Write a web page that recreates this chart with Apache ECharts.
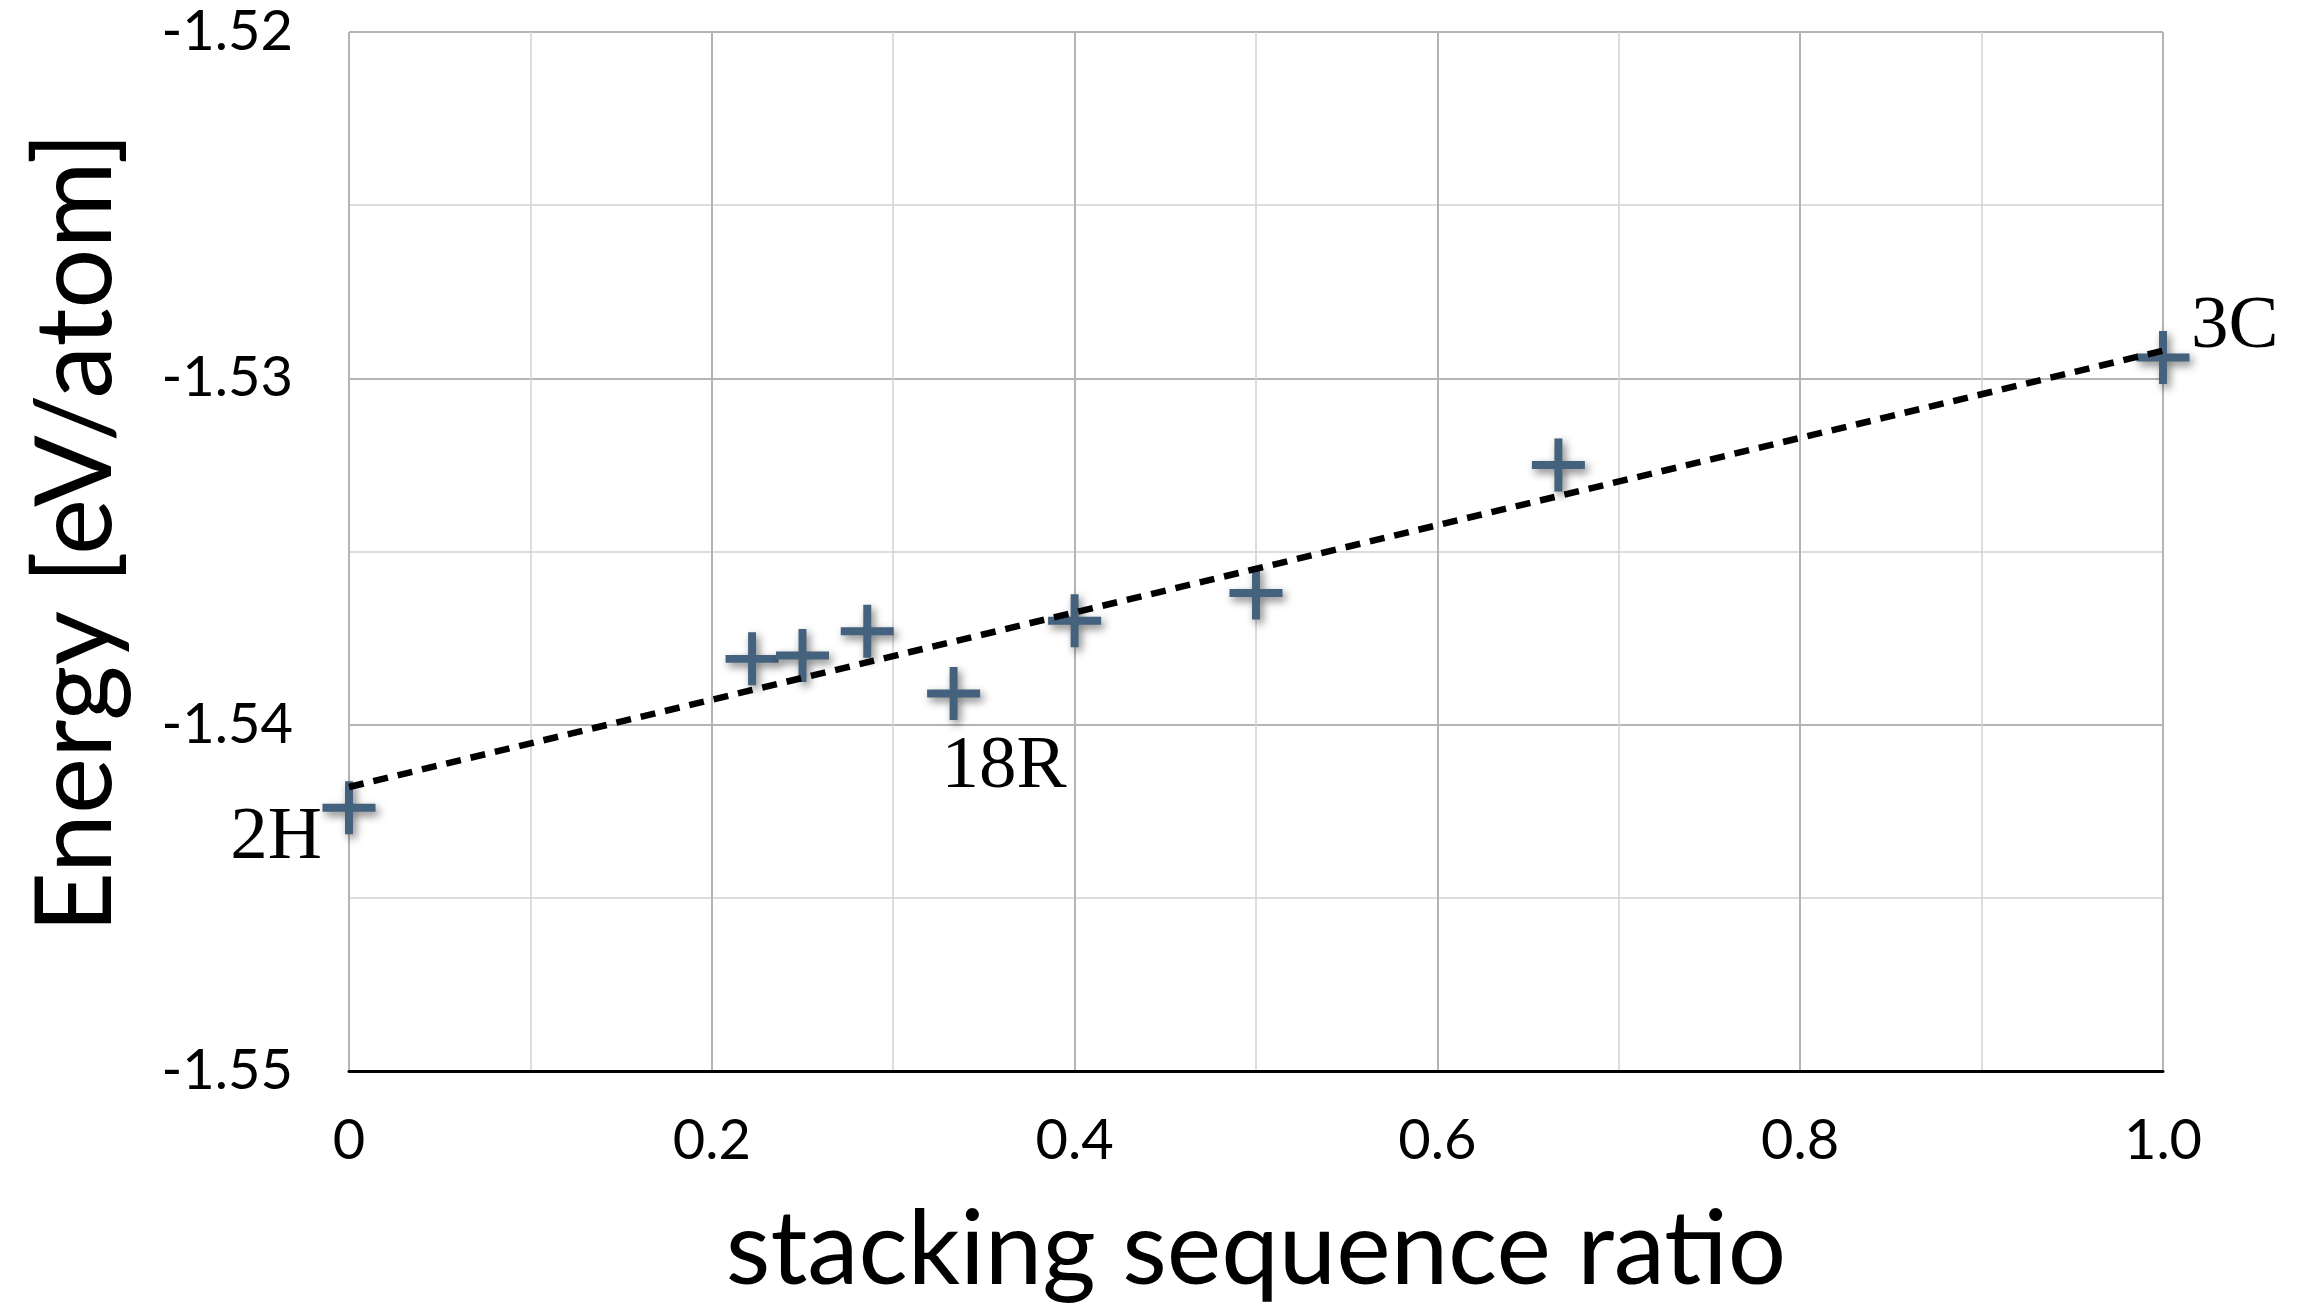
<!DOCTYPE html>
<html>
<head>
<meta charset="utf-8">
<style>
  html, body { margin: 0; padding: 0; background: #fff; }
  #chart { width: 2309px; height: 1308px; }
</style>
<script src="https://cdn.jsdelivr.net/npm/echarts@6/dist/echarts.min.js"></script>
</head>
<body>
<div id="chart"></div>
<script>
// Stacking sequence ratio vs. energy per atom for each polytype
const ratio = [0, 0.2222, 0.25, 0.2857, 0.3333, 0.4, 0.5, 0.6667, 1.0];
const energy = [-1.5424, -1.5381, -1.5380, -1.5373, -1.5391, -1.5370, -1.5362, -1.5325, -1.5294];
const polytype = ['2H', '', '', '', '18R', '', '', '', '3C'];

// Linear trend endpoints
const trendX = [0, 1];
const trendY = [-1.5418, -1.5292];

// Tick labels
const xTickLabels = ['0', '0.2', '0.4', '0.6', '0.8', '1.0'];
const yTickLabels = ['-1.55', '-1.54', '-1.53', '-1.52'];

const X_MIN = 0, X_MAX = 1, X_STEP = 0.2;
const Y_MIN = -1.55, Y_MAX = -1.52, Y_STEP = 0.01;

const sansFont = 'Lato, "Open Sans", sans-serif';
const serifFont = '"Liberation Serif", "DejaVu Serif", serif';
const markerColor = '#44617d';

// Where each polytype name sits relative to its marker
const labelPlacement = {
  '2H':  { align: 'right', offset: [-27, 31] },
  '18R': { align: 'left',  offset: [-12, 74] },
  '3C':  { align: 'left',  offset: [28, -30] }
};

const plusPath = 'path://M0.425,0H0.575V0.425H1V0.575H0.575V1H0.425V0.575H0V0.425H0.425Z';

const points = ratio.map((x, i) => {
  const item = { value: [x, energy[i]] };
  const name = polytype[i];
  if (name) {
    const p = labelPlacement[name];
    item.label = {
      show: true,
      formatter: name,
      position: 'inside',
      align: p.align,
      verticalAlign: 'middle',
      offset: p.offset,
      fontFamily: serifFont,
      fontSize: 75,
      color: '#000',
      textBorderWidth: 0,
      textBorderColor: 'transparent',
      textShadowBlur: 0,
      textShadowColor: 'transparent'
    };
  }
  return item;
});

const trend = trendX.map((x, i) => [x, trendY[i]]);

const chart = echarts.init(document.getElementById('chart'), null, { renderer: 'canvas' });

chart.setOption({
  animation: false,
  backgroundColor: '#fff',
  grid: { left: 349, right: 146, top: 32, bottom: 237, containLabel: false },
  xAxis: {
    type: 'value',
    min: X_MIN, max: X_MAX, interval: X_STEP,
    name: 'stacking sequence ratio',
    nameLocation: 'middle',
    nameGap: 128,
    nameTextStyle: { fontFamily: sansFont, fontSize: 103, color: '#000' },
    axisLine: { show: true, onZero: false, lineStyle: { color: '#000', width: 3 } },
    axisTick: { show: false },
    axisLabel: {
      margin: 42,
      fontFamily: sansFont, fontSize: 56, color: '#000',
      formatter: v => xTickLabels[Math.round((v - X_MIN) / X_STEP)]
    },
    splitLine: { show: true, lineStyle: { color: '#b4b4b4', width: 2 } },
    minorTick: { show: false, splitNumber: 2 },
    minorSplitLine: { show: true, lineStyle: { color: '#d2d2d2', width: 1.5 } }
  },
  yAxis: {
    type: 'value',
    min: Y_MIN, max: Y_MAX, interval: Y_STEP,
    name: 'Energy [eV/atom]',
    nameLocation: 'middle',
    nameRotate: 90,
    nameGap: 219,
    nameTextStyle: { fontFamily: sansFont, fontSize: 106, color: '#000', padding: [0, 0, 0, 38] },
    axisLine: { show: false },
    axisTick: { show: false },
    axisLabel: {
      margin: 56,
      fontFamily: sansFont, fontSize: 56, color: '#000',
      formatter: v => yTickLabels[Math.round((v - Y_MIN) / Y_STEP)]
    },
    splitLine: { show: true, lineStyle: { color: '#b4b4b4', width: 2 } },
    minorTick: { show: false, splitNumber: 2 },
    minorSplitLine: { show: true, lineStyle: { color: '#d2d2d2', width: 1.5 } }
  },
  series: [
    {
      type: 'scatter',
      data: points,
      symbol: plusPath,
      symbolSize: 53,
      itemStyle: {
        color: markerColor,
        opacity: 1,
        shadowBlur: 8,
        shadowColor: 'rgba(0,0,0,0.5)',
        shadowOffsetX: 3,
        shadowOffsetY: 4
      },
      z: 3
    },
    {
      type: 'line',
      data: trend,
      symbol: 'none',
      lineStyle: { color: '#000', width: 6.5, type: [15, 10] },
      silent: true,
      z: 4
    }
  ]
});
</script>
</body>
</html>
